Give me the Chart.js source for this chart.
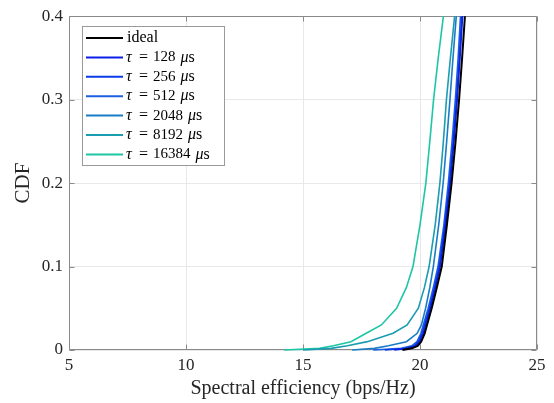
<!DOCTYPE html>
<html>
<head>
<meta charset="utf-8">
<script src="https://cdn.jsdelivr.net/npm/chart.js@4"></script>
<style>
html,body{margin:0;padding:0;background:#fff;}
#wrap{width:554px;height:403px;position:relative;}
</style>
</head>
<body>
<div id="wrap"><canvas id="c" width="554" height="403"></canvas></div>
<script>
// CDF levels shared by all curves
const cdfLevels = [0, 0.002, 0.005, 0.01, 0.02, 0.03, 0.05, 0.075, 0.1, 0.15, 0.2, 0.25, 0.3, 0.35, 0.4];
// Spectral efficiency (bps/Hz) at each CDF level
const seIdeal = [19.25, 19.65, 19.9, 20.05, 20.2, 20.3, 20.5, 20.72, 20.93, 21.15, 21.35, 21.52, 21.67, 21.8, 21.92];
const se128   = [18.9, 19.5, 19.82, 19.98, 20.14, 20.24, 20.44, 20.66, 20.86, 21.1, 21.29, 21.45, 21.59, 21.71, 21.82];
const se256   = [18.5, 19.4, 19.75, 19.93, 20.09, 20.19, 20.4, 20.62, 20.82, 21.06, 21.26, 21.42, 21.56, 21.68, 21.78];
const se512   = [18.0, 19.2, 19.65, 19.87, 20.04, 20.14, 20.35, 20.57, 20.77, 21.02, 21.21, 21.37, 21.51, 21.63, 21.73];
const se2048  = [17.1, 18.05, 18.65, 19.42, 19.88, 20.06, 20.24, 20.42, 20.57, 20.8, 20.99, 21.14, 21.28, 21.41, 21.55];
const se8192  = [15.0, 16.2, 16.9, 17.75, 18.85, 19.45, 19.93, 20.19, 20.39, 20.65, 20.85, 21.0, 21.13, 21.3, 21.48];
const se16384 = [14.2, 15.7, 16.3, 17.05, 17.7, 18.35, 19.0, 19.42, 19.7, 20.0, 20.25, 20.42, 20.58, 20.78, 21.0];

const seriesLabels = ['ideal', '128', '256', '512', '2048', '8192', '16384'];
const seriesValues = [seIdeal, se128, se256, se512, se2048, se8192, se16384];
const seriesColors = ['#000000', '#0b1fe8', '#0a3be6', '#1c60e0', '#1a7cc6', '#1a9db0', '#1ec6a6'];
const seriesWidths = [2, 1.6, 1.6, 1.6, 1.6, 1.6, 1.6];

const xTicks = [5, 10, 15, 20, 25];
const yTicks = [0, 0.1, 0.2, 0.3, 0.4];
const yTickLabels = ['0', '0.1', '0.2', '0.3', '0.4'];

const SERIF = '"Liberation Serif", "DejaVu Serif", serif';
const TEXT = '#262626';
const AXIS = '#8a8a8a';

const datasets = seriesLabels.map((lab, i) => ({
  label: lab,
  data: seriesValues[i].map((v, k) => ({x: v, y: cdfLevels[k]})),
  borderColor: seriesColors[i],
  backgroundColor: seriesColors[i],
  borderWidth: seriesWidths[i],
  pointRadius: 0,
  tension: 0,
  fill: false,
  clip: 3
}));

const boxPlugin = {
  id: 'boxPlugin',
  beforeDatasetsDraw(chart) {
    const ctx = chart.ctx, a = chart.chartArea;
    const xs = chart.scales.x, ys = chart.scales.y;
    ctx.save();
    ctx.strokeStyle = AXIS;
    ctx.lineWidth = 1;
    const L = Math.round(a.left) + 0.5, R = Math.round(a.right) - 0.5;
    const T = Math.round(a.top) + 0.5, B = Math.round(a.bottom) - 0.5;
    ctx.beginPath();
    ctx.rect(L, T, R - L, B - T);
    // inward ticks
    xTicks.forEach(v => {
      const p = Math.round(xs.getPixelForValue(v)) + 0.5;
      ctx.moveTo(p, B); ctx.lineTo(p, B - 5);
      ctx.moveTo(p, T); ctx.lineTo(p, T + 5);
    });
    yTicks.forEach(v => {
      const p = Math.round(ys.getPixelForValue(v)) + 0.5;
      ctx.moveTo(L, p); ctx.lineTo(L + 5, p);
      ctx.moveTo(R, p); ctx.lineTo(R - 5, p);
    });
    ctx.stroke();
    ctx.restore();
  },
  afterDatasetsDraw(chart) {
    const ctx = chart.ctx;
    ctx.save();
    // legend
    const lx = 82.5, ly = 26.5, lw = 142, lh = 139;
    ctx.fillStyle = '#fff';
    ctx.fillRect(lx, ly, lw, lh);
    ctx.strokeStyle = '#9a9a9a';
    ctx.lineWidth = 1;
    ctx.strokeRect(lx, ly, lw, lh);
    const rowH = 19.4, y0 = 38;
    chart.data.datasets.forEach((ds, i) => {
      const yy = y0 + i * rowH;
      ctx.strokeStyle = ds.borderColor;
      ctx.lineWidth = 2;
      ctx.beginPath();
      ctx.moveTo(86, yy); ctx.lineTo(123, yy);
      ctx.stroke();
      ctx.fillStyle = '#000';
      ctx.textBaseline = 'middle';
      ctx.textAlign = 'left';
      if (i === 0) {
        ctx.font = '16px ' + SERIF;
        ctx.fillText(ds.label, 127, yy);
      } else {
        ctx.font = 'italic 16px ' + SERIF;
        ctx.fillText('\u03C4', 126, yy);
        ctx.font = '16px ' + SERIF;
        ctx.fillText('=', 139, yy);
        ctx.font = '15px ' + SERIF;
        ctx.fillText(ds.label, 153, yy);
        let x = 153 + ctx.measureText(ds.label).width + 5;
        ctx.font = 'italic 16px ' + SERIF;
        ctx.fillText('\u03BC', x, yy);
        x += ctx.measureText('\u03BC').width;
        ctx.font = '16px ' + SERIF;
        ctx.fillText('s', x, yy);
      }
    });
    ctx.restore();
  }
};

new Chart(document.getElementById('c'), {
  type: 'line',
  data: { datasets },
  options: {
    responsive: false,
    animation: false,
    devicePixelRatio: 1,
    layout: { padding: { top: 14, right: 17, left: 0, bottom: 0 } },
    plugins: { legend: { display: false }, tooltip: { enabled: false } },
    scales: {
      x: {
        type: 'linear', min: 5, max: 25,
        afterBuildTicks: s => { s.ticks = xTicks.map(v => ({value: v})); },
        afterFit: s => { s.height = 53; },
        grid: { color: '#e8e8e8', lineWidth: 1, drawTicks: false },
        border: { display: false },
        ticks: { color: TEXT, font: { family: SERIF, size: 17 }, padding: 5, maxRotation: 0,
                 callback: v => String(v) },
        title: { display: true, text: 'Spectral efficiency (bps/Hz)', color: TEXT,
                 font: { family: SERIF, size: 20 }, padding: { top: 0, bottom: 2 } }
      },
      y: {
        type: 'linear', min: 0, max: 0.4,
        afterBuildTicks: s => { s.ticks = yTicks.map(v => ({value: v})); },
        afterFit: s => { s.width = 69; },
        grid: { color: '#e8e8e8', lineWidth: 1, drawTicks: false },
        border: { display: false },
        ticks: { color: TEXT, font: { family: SERIF, size: 17 }, padding: 6,
                 callback: (v) => yTickLabels[yTicks.indexOf(Math.round(v * 10) / 10)] },
        title: { display: true, text: 'CDF', color: TEXT,
                 font: { family: SERIF, size: 21 }, padding: { top: 11, bottom: 0 } }
      }
    }
  },
  plugins: [boxPlugin]
});
</script>
</body>
</html>
